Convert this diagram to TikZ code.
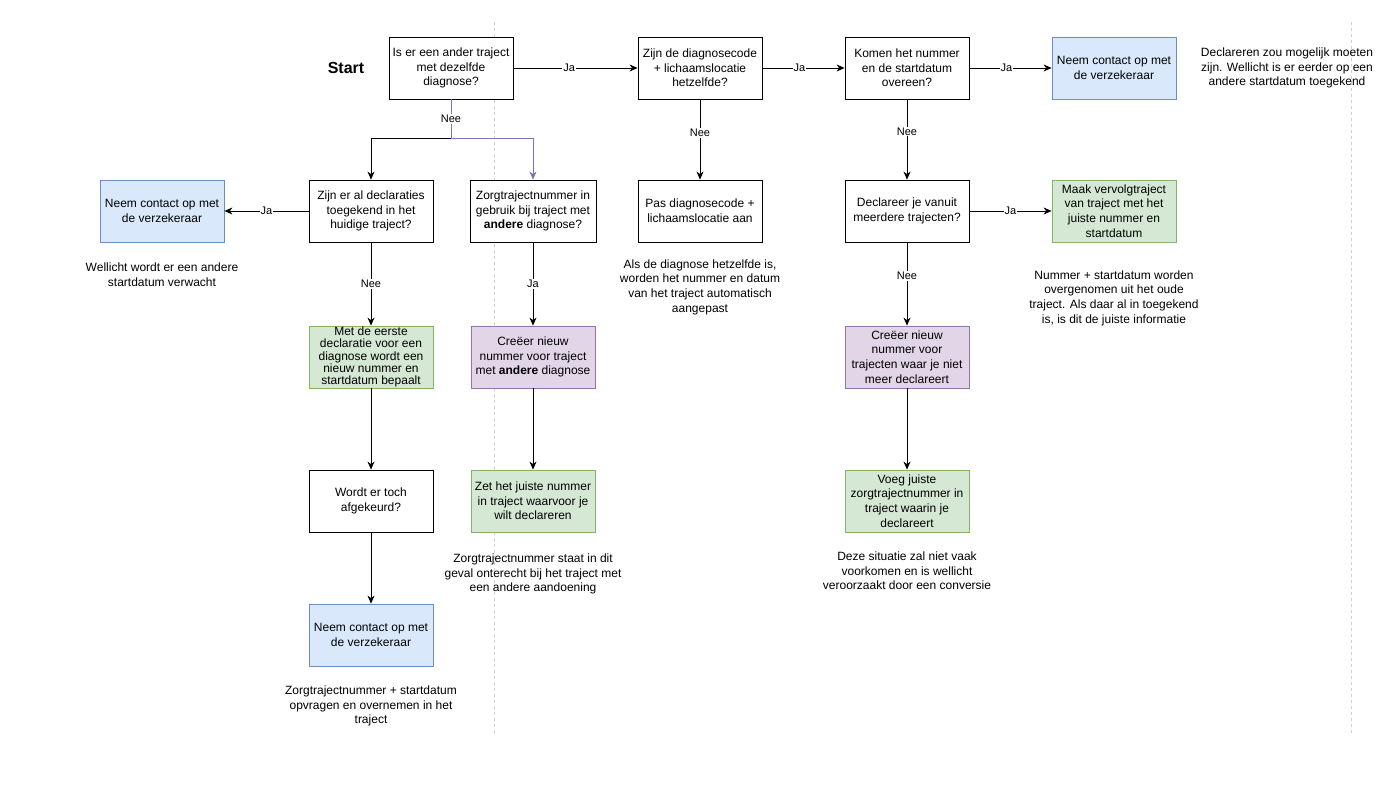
\documentclass[tikz,border=0pt]{standalone}
\usepackage{fontspec}
\setmainfont{Liberation Sans}
\definecolor{infoblue}{HTML}{DAE8FC}
\definecolor{infoblueline}{HTML}{6C8EBF}
\definecolor{okgreen}{HTML}{D5E8D4}
\definecolor{okgreenline}{HTML}{82B366}
\definecolor{newpurple}{HTML}{E1D5E7}
\definecolor{newpurpleline}{HTML}{9673A6}
\definecolor{edgepurple}{RGB}{128,112,184}
\definecolor{guidegray}{RGB}{208,208,208}
\usetikzlibrary{arrows.meta}

\begin{document}
\begin{tikzpicture}[x=1pt, y=-1pt,
    font=\fontsize{12}{14.6}\selectfont,
    box/.style={draw, line width=0.8pt, fill=white, minimum width=124pt,
      minimum height=62pt, align=center, inner sep=1pt},
    bluebox/.style={box, fill=infoblue, draw=infoblueline},
    greenbox/.style={box, fill=okgreen, draw=okgreenline},
    purplebox/.style={box, fill=newpurple, draw=newpurpleline},
    note/.style={align=center},
    arr/.style={-{Stealth[length=8pt, width=7pt, inset=2.5pt]}, line width=0.8pt},
    lbl/.style={fill=white, text=black, inner sep=1pt, font=\fontsize{11}{13}\selectfont},
    guide/.style={guidegray, dash pattern=on 3pt off 3pt, line width=1pt}]
    \useasboundingbox (0,0) rectangle (1398,786);
    % Guides in the background
    \draw[guide] (494,22) -- (494,735);
    \draw[guide] (1351,22) -- (1351,735);
    % First row
    \node[font=\fontsize{16}{19}\selectfont\bfseries] (start) at (346,68) {Start};
    \node[box] (q1) at (451,68) {Is er een ander traject\\met dezelfde\\diagnose?};
    \node[box] (q2) at (700,68) {Zijn de diagnosecode\\+ lichaamslocatie\\hetzelfde?};
    \node[box] (q3) at (907,68) {Komen het nummer\\en de startdatum\\overeen?};
    \node[bluebox] (contact1) at (1114,68) {Neem contact op met\\de verzekeraar};
    \node[note] (note1) at (1287,68)
      {Declareren zou mogelijk moeten\\zijn. Wellicht is er eerder op een\\andere startdatum toegekend};
    % Second row
    \node[bluebox] (contact2) at (162,211) {Neem contact op met\\de verzekeraar};
    \node[box] (q4) at (371,211) {Zijn er al declaraties\\toegekend in het\\huidige traject?};
    \node[box, minimum width=126pt] (q5) at (533,211)
      {Zorgtrajectnummer in\\gebruik bij traject met\\\textbf{andere} diagnose?};
    \node[box] (fix) at (700,211) {Pas diagnosecode +\\lichaamslocatie aan};
    \node[box] (q6) at (907,211) {Declareer je vanuit\\meerdere trajecten?};
    \node[greenbox] (follow) at (1114,211)
      {Maak vervolgtraject\\van traject met het\\juiste nummer en\\startdatum};
    % Notes under the second row
    \node[note] (note2) at (162,275) {Wellicht wordt er een andere\\startdatum verwacht};
    \node[note] (note3) at (700,287)
      {Als de diagnose hetzelfde is,\\worden het nummer en datum\\van het traject automatisch\\aangepast};
    \node[note] (note4) at (1114,298)
      {Nummer + startdatum worden\\overgenomen uit het oude\\traject. Als daar al in toegekend\\is, is dit de juiste informatie};
    % Third row
    \node[greenbox, font=\fontsize{12}{12.2}\selectfont] (first) at (371,357)
      {Met de eerste\\declaratie voor een\\diagnose wordt een\\nieuw nummer en\\startdatum bepaalt};
    \node[purplebox] (newnr) at (533,357) {Creëer nieuw\\nummer voor traject\\met \textbf{andere} diagnose};
    \node[purplebox] (newnrmulti) at (907,357)
      {Creëer nieuw\\nummer voor\\trajecten waar je niet\\meer declareert};
    % Fourth row
    \node[box] (q7) at (371,501) {Wordt er toch\\afgekeurd?};
    \node[greenbox] (setnr) at (533,501) {Zet het juiste nummer\\in traject waarvoor je\\wilt declareren};
    \node[greenbox] (addnr) at (907,501)
      {Voeg juiste\\zorgtrajectnummer in\\traject waarin je\\declareert};
    \node[note] (note5) at (533,574)
      {Zorgtrajectnummer staat in dit\\geval onterecht bij het traject met\\een andere aandoening};
    \node[note] (note6) at (907,571)
      {Deze situatie zal niet vaak\\voorkomen en is wellicht\\veroorzaakt door een conversie};
    % Last row
    \node[bluebox] (contact3) at (371,635) {Neem contact op met\\de verzekeraar};
    \node[note] (note7) at (371,706)
      {Zorgtrajectnummer + startdatum\\opvragen en overnemen in het\\traject};
    % Connectors
    \coordinate (split) at (451,138);
    \draw[arr] (q1.south) -- (split) -| (q4.north);
    \draw[arr, edgepurple] (q1.south) -- node[lbl] {Nee} (split) -| (q5.north);
    \draw[arr] (q1) -- node[lbl, pos=0.45] {Ja} (q2);
    \draw[arr] (q2) -- node[lbl, pos=0.45] {Ja} (q3);
    \draw[arr] (q3) -- node[lbl, pos=0.45] {Ja} (contact1);
    \draw[arr] (q2) -- node[lbl, pos=0.42] {Nee} (fix);
    \draw[arr] (q3) -- node[lbl, pos=0.4] {Nee} (q6);
    \draw[arr] (q4) -- node[lbl] {Ja} (contact2);
    \draw[arr] (q4) -- node[lbl] {Nee} (first);
    \draw[arr] (q5) -- node[lbl] {Ja} (newnr);
    \draw[arr] (q6) -- node[lbl] {Ja} (follow);
    \draw[arr] (q6) -- node[lbl, pos=0.4] {Nee} (newnrmulti);
    \draw[arr] (first) -- (q7);
    \draw[arr] (q7) -- (contact3);
    \draw[arr] (newnr) -- (setnr);
    \draw[arr] (newnrmulti) -- (addnr);
\end{tikzpicture}
\end{document}
